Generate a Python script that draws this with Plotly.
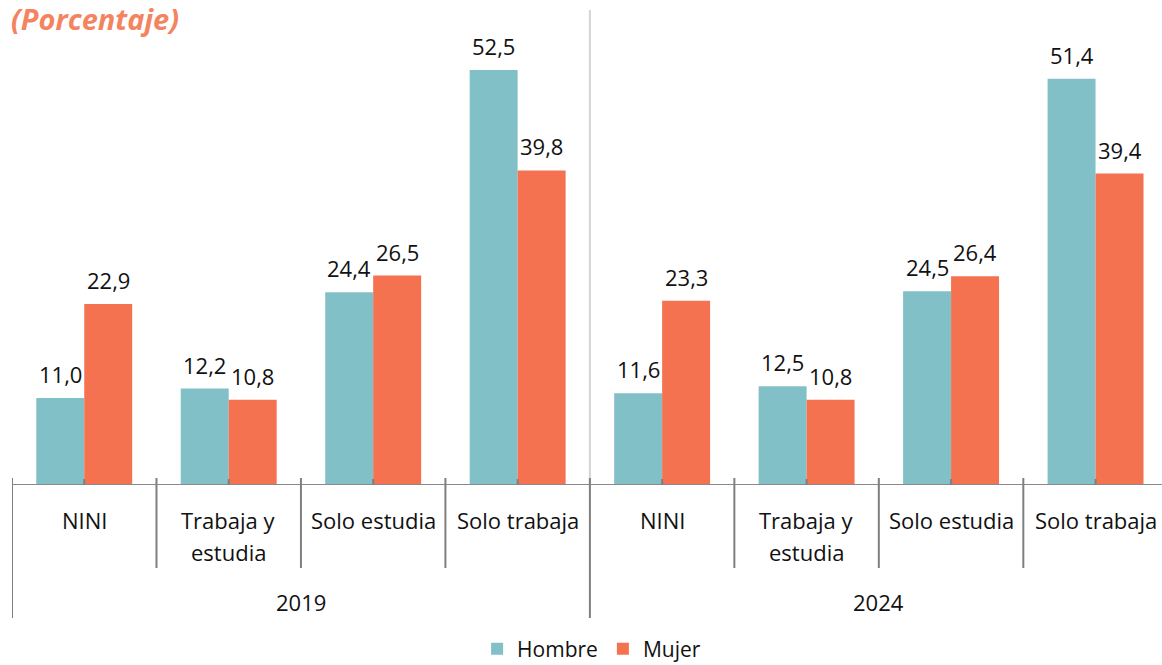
import plotly.graph_objects as go

years = ["2019", "2024"]
categories = ["NINI", "Trabaja y estudia", "Solo estudia", "Solo trabaja"]
cat_lines = [["NINI"], ["Trabaja y", "estudia"], ["Solo estudia"], ["Solo trabaja"]]
hombre = [11.0, 12.2, 24.4, 52.5, 11.6, 12.5, 24.5, 51.4]
mujer = [22.9, 10.8, 26.5, 39.8, 23.3, 10.8, 26.4, 39.4]

C_H = "#82C0C7"
C_M = "#F4724F"
FONT = "Open Sans"
FS = 22

n = len(years) * len(categories)
centers = [i + 0.5 for i in range(n)]
bw = 0.332

def fmt(v):
    return f"{v:.1f}".replace(".", ",")

xh = [c - bw / 2 for c in centers]
xm = [c + bw / 2 for c in centers]

fig = go.Figure()
fig.add_trace(go.Bar(x=xh, y=hombre, width=bw, name="Hombre",
                     marker=dict(color=C_H, line=dict(width=0))))
fig.add_trace(go.Bar(x=xm, y=mujer, width=bw, name="Mujer",
                     marker=dict(color=C_M, line=dict(width=0))))

PW = 1150.0
PH = 475.0

def py(px_below):
    return -px_below / PH

shapes = []
shapes.append(dict(type="line", xref="x", yref="paper", x0=4, x1=4, y0=0, y1=1,
                   line=dict(color="#D4D4D4", width=2)))
shapes.append(dict(type="line", xref="paper", yref="y", x0=0, x1=1, y0=0, y1=0,
                   line=dict(color="#8A8A8A", width=2)))
for i in range(n + 1):
    y0 = py(133) if i % 4 == 0 else py(83)
    shapes.append(dict(type="line", xref="x", yref="paper", x0=i, x1=i, y0=y0, y1=py(-7),
                       line=dict(color="#7F7F7F", width=2)))
for c in centers:
    shapes.append(dict(type="line", xref="x", yref="paper", x0=c, x1=c, y0=0, y1=py(-6),
                       line=dict(color="#7F7F7F", width=2)))

annotations = []
for xs, vs in ((xh, hombre), (xm, mujer)):
    for x, v in zip(xs, vs):
        annotations.append(dict(x=x, y=v, xref="x", yref="y", text=fmt(v), showarrow=False,
                                yanchor="middle", yshift=24,
                                font=dict(size=FS, color="#111111", family=FONT)))
for yi, yr in enumerate(years):
    for ci, lines in enumerate(cat_lines):
        c = centers[yi * 4 + ci]
        for li, t in enumerate(lines):
            annotations.append(dict(x=c, y=py(35 + 32 * li), xref="x", yref="paper", text=t,
                                    showarrow=False, yanchor="middle",
                                    font=dict(size=FS, color="#111111", family=FONT)))
    annotations.append(dict(x=yi * 4 + 2, y=py(117), xref="x", yref="paper", text=yr,
                            showarrow=False, yanchor="middle",
                            font=dict(size=FS, color="#111111", family=FONT)))
annotations.append(dict(x=(9 - 12) / PW, y=1 - (19 - 10) / PH, xref="paper", yref="paper",
                        text="<b><i>(Porcentaje)</i></b>",
                        showarrow=False, xanchor="left", yanchor="middle",
                        font=dict(size=29, color="#F4845F", family=FONT)))

fig.update_layout(
    width=1162, height=665,
    margin=dict(l=12, r=0, t=10, b=180, autoexpand=False),
    paper_bgcolor="white", plot_bgcolor="white",
    barmode="overlay",
    showlegend=True,
    legend=dict(orientation="h", x=0.504, xanchor="center", y=py(164), yanchor="middle",
                font=dict(size=21, color="#111111", family=FONT), itemwidth=30,
                traceorder="normal"),
    xaxis=dict(range=[0, 7.96], showticklabels=False, showgrid=False, zeroline=False,
               showline=False, ticks=""),
    yaxis=dict(range=[0, 60.1], showticklabels=False, showgrid=False, zeroline=False,
               showline=False),
    shapes=shapes, annotations=annotations,
    font=dict(family=FONT),
)
fig.write_html("out.html", config={"displayModeBar": False},
               post_script="document.body.style.margin='0';document.body.style.overflow='hidden';")
